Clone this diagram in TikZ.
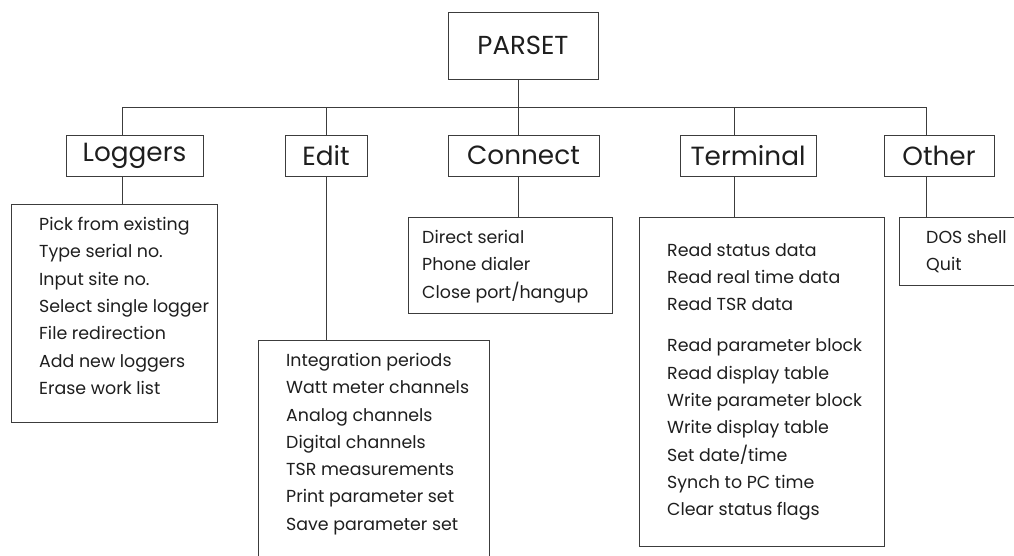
\documentclass[tikz,border=0pt]{standalone}
\usepackage{fontspec}
\setmainfont{Poppins}
\usetikzlibrary{positioning}
\definecolor{lineGrey}{RGB}{60, 60, 60}
\definecolor{textGrey}{RGB}{30, 30, 30}

\begin{document}
\begin{tikzpicture}[
    x=1pt, y=-1pt,
    box/.style={rectangle, draw=lineGrey, line width=0.8pt, minimum height=41pt, inner sep=0pt, text=textGrey, font=\fontsize{26.3}{30}\selectfont},
    listbox/.style={rectangle, draw=lineGrey, line width=0.8pt, anchor=north west, inner sep=0pt},
    listtext/.style={anchor=north west, inner sep=0pt, align=left, text=textGrey, font=\fontsize{17.4}{27.3}\selectfont},
    link/.style={draw=lineGrey, line width=0.8pt}
]
\useasboundingbox (0,0) rectangle (1014,555);
\clip (0,0) rectangle (1014,555);

% Row 0: root
\node[box, minimum width=150pt, minimum height=67pt, font=\fontsize{26}{30}\selectfont] (parset) at (523,45.5) {PARSET};

% Row 1: menus
\node[box, minimum width=137pt] (logg) at (134.5,155.5) {Loggers};
\node[box, minimum width=82pt] (edit) at (326,155.5) {Edit};
\node[box, minimum width=151pt] (conn) at (523.5,155.5) {Connect};
\node[box, minimum width=136pt] (term) at (748,155.5) {Terminal};
\node[box, minimum width=110pt] (other) at (939,155.5) {Other};

% bus and stems
\coordinate (busL) at (122,107);
\coordinate (busE) at (326,107);
\coordinate (busC) at (518,107);
\coordinate (busT) at (734,107);
\coordinate (busR) at (926,107);

% Row 2: sub menus
\node[listbox, minimum width=206pt, minimum height=218pt] (loglist) at (11,204) {};
\node[listbox, minimum width=231pt, minimum height=260pt] (editlist) at (258,340) {};
\node[listbox, minimum width=204pt, minimum height=96pt] (connlist) at (408,217) {};
\node[listbox, minimum width=245pt, minimum height=329pt] (termlist) at (639,217) {};
\node[listbox, minimum width=140pt, minimum height=68pt] (otherlist) at (899,217) {};

\node[listtext, below right=13pt and 28pt of loglist.north west] (logtext) {Pick from existing\\Type serial no.\\Input site no.\\Select single logger\\File redirection\\Add new loggers\\Erase work list};
\node[listtext, below right=13pt and 28pt of editlist.north west] (edittext) {Integration periods\\Watt meter channels\\Analog channels\\Digital channels\\TSR measurements\\Print parameter set\\Save parameter set};
\node[listtext, below right=13pt and 14pt of connlist.north west] (conntext) {Direct serial\\Phone dialer\\Close port/hangup};
\node[listtext, below right=26pt and 28pt of termlist.north west] (termtext) {Read status data\\Read real time data\\Read TSR data\\[14pt]Read parameter block\\Read display table\\Write parameter block\\Write display table\\Set date/time\\Synch to PC time\\Clear status flags};
\node[listtext, below right=13pt and 27pt of otherlist.north west] (othertext) {DOS shell\\Quit};

% connectors
\draw[link] (parset.south -| busC) -- (busC);
\draw[link] (busL) -- (busR);
\draw[link] (busL) -- (busL |- logg.north);
\draw[link] (busE) -- (busE |- edit.north);
\draw[link] (busC) -- (busC |- conn.north);
\draw[link] (busT) -- (busT |- term.north);
\draw[link] (busR) -- (busR |- other.north);
\draw[link] (busL |- logg.south) -- (busL |- loglist.north);
\draw[link] (busE |- edit.south) -- (busE |- editlist.north);
\draw[link] (busC |- conn.south) -- (busC |- connlist.north);
\draw[link] (busT |- term.south) -- (busT |- termlist.north);
\draw[link] (busR |- other.south) -- (busR |- otherlist.north);
\end{tikzpicture}
\end{document}
